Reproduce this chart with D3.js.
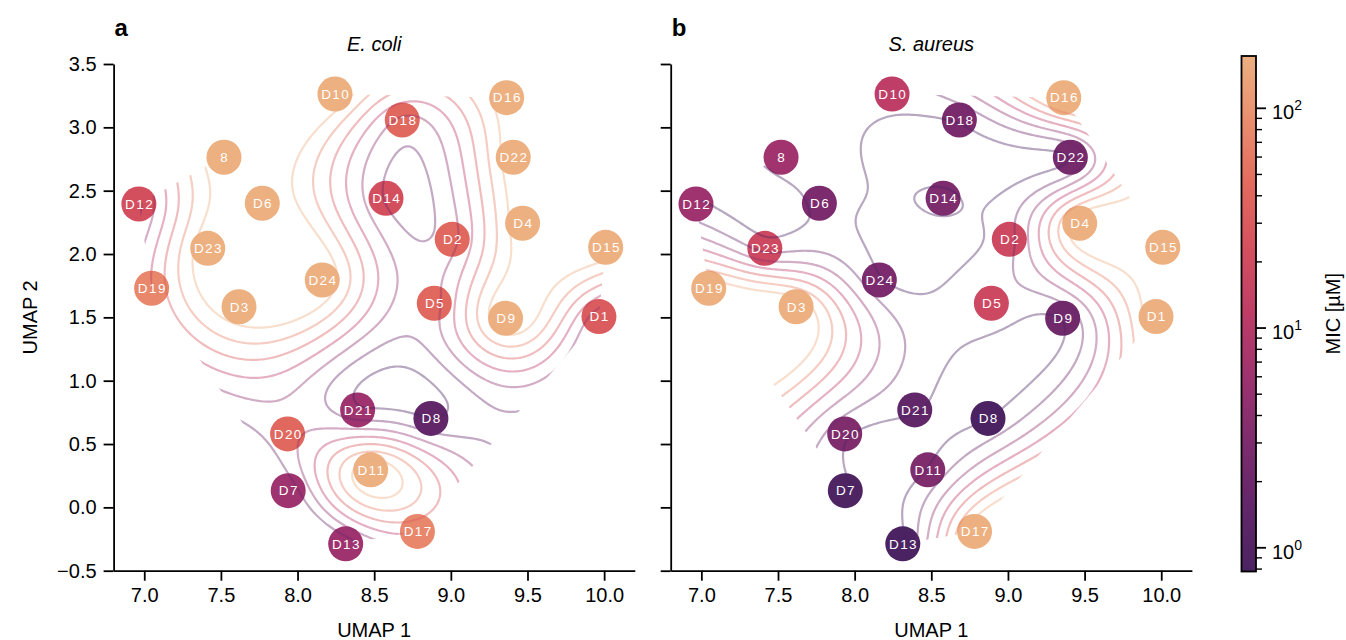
<!DOCTYPE html>
<html>
<head>
<meta charset="utf-8">
<script src="https://cdn.jsdelivr.net/npm/d3@7"></script>
<style>
  body { margin: 0; background: #fff; }
  text { font-family: "Liberation Sans", Arial, Helvetica, sans-serif; }
</style>
</head>
<body>
<svg id="chart" width="1346" height="640"></svg>
<script>
// ── data ──────────────────────────────────────────────────────────────────
const drugs = ['D1', 'D2', 'D3', 'D4', 'D5', 'D6', 'D7', 'D8', 'D9', 'D10', 'D11', 'D12', 'D13',
    'D14', 'D15', 'D16', 'D17', 'D18', 'D19', 'D20', 'D21', 'D22', 'D23', 'D24', '8'];
const umap1 = [9.966, 9.009, 7.618, 9.468, 8.892, 7.770, 7.939, 8.870, 9.357, 8.244, 8.477, 6.965, 8.314,
    8.577, 10.010, 9.364, 8.782, 8.683, 7.048, 7.935, 8.392, 9.407, 7.414, 8.161, 7.520];
const umap2 = [1.506, 2.116, 1.584, 2.243, 1.611, 2.401, 0.132, 0.702, 1.493, 3.263, 0.296, 2.395, -0.288,
    2.440, 2.053, 3.234, -0.190, 3.058, 1.730, 0.580, 0.769, 2.764, 2.045, 1.795, 2.764];
// MIC in µM
const micEcoli = [31, 43, 173, 173, 43, 173, 6, 1.5, 173, 173, 173, 22, 6,
    22, 173, 173, 77, 43, 77, 43, 6, 173, 173, 173, 173];
const micSaureus = [173, 18, 173, 173, 18, 2.9, 0.85, 0.8, 2.2, 12, 3.2, 6, 0.78,
    3, 173, 173, 173, 2.8, 173, 3.2, 1.5, 2.5, 18, 2.9, 6.5];

const xTicks = [7.0, 7.5, 8.0, 8.5, 9.0, 9.5, 10.0];
const yTicks = [-0.5, 0.0, 0.5, 1.0, 1.5, 2.0, 2.5, 3.0, 3.5];
const contourLevels = [0, 25, 50, 75, 100, 125, 150];
const micRange = [0.78, 173];
const cbarMajor = [1, 10, 100];
const cbarMinor = [0.8, 0.9, 2, 3, 4, 5, 6, 7, 8, 9, 20, 30, 40, 50, 60, 70, 80, 90];

// ── layout ────────────────────────────────────────────────────────────────
const panelLeft = [113.6, 670.7];
const panelWidth = 521.2;
const plotTop = 64, plotBottom = 570.7;
const ink = '#000';

// flare-like colormap, dark purple (low) -> light orange (high)
const flare = d3.piecewise(d3.interpolateRgb, [
    '#4b2362', '#622769', '#7d2c6e', '#9d336f', '#bd3d67',
    '#d5505e', '#e26a5e', '#e98e6e', '#edb081']);
const micColor = d3.scaleSequentialLog(flare).domain(micRange).clamp(true);
const levelColor = d3.scaleSequential(flare).domain(d3.extent(contourLevels));

const svg = d3.select('#chart');
const defs = svg.append('defs');

// thin plate spline through the points (smooth interpolated MIC field)
function fitTps(xs, ys, zs) {
    const n = xs.length, m = n + 3;
    const U = r => r > 0 ? r * r * Math.log(r) : 0;
    const A = Array.from({ length: m }, () => new Float64Array(m + 1));
    for (let i = 0; i < n; i++) {
        for (let j = 0; j < n; j++) A[i][j] = U(Math.hypot(xs[i] - xs[j], ys[i] - ys[j]));
        A[i][n] = 1; A[i][n + 1] = xs[i]; A[i][n + 2] = ys[i];
        A[n][i] = 1; A[n + 1][i] = xs[i]; A[n + 2][i] = ys[i];
        A[i][m] = zs[i];
    }
    // gaussian elimination, partial pivoting
    for (let c = 0; c < m; c++) {
        let p = c;
        for (let r = c + 1; r < m; r++) if (Math.abs(A[r][c]) > Math.abs(A[p][c])) p = r;
        [A[c], A[p]] = [A[p], A[c]];
        for (let r = 0; r < m; r++) {
            if (r === c) continue;
            const f = A[r][c] / A[c][c];
            if (f === 0) continue;
            for (let k = c; k <= m; k++) A[r][k] -= f * A[c][k];
        }
    }
    const w = A.map((row, i) => row[m] / row[i]);
    return (x, y) => {
        let v = w[n] + w[n + 1] * x + w[n + 2] * y;
        for (let i = 0; i < n; i++) v += w[i] * U(Math.hypot(x - xs[i], y - ys[i]));
        return v;
    };
}

function drawPanel(idx, mic, title, letter) {
    const left = panelLeft[idx];
    const x = d3.scaleLinear().domain([6.8, 10.2]).range([left, left + panelWidth]);
    const y = d3.scaleLinear().domain([-0.5, 3.5]).range([plotBottom, plotTop]);
    const g = svg.append('g');

    const pts = drugs.map((name, i) => ({ name, u1: umap1[i], u2: umap2[i], mic: mic[i] }));

    // convex hull clip (field only defined inside the data)
    const hull = d3.polygonHull(pts.map(p => [x(p.u1), y(p.u2)]));
    defs.append('clipPath').attr('id', `hull${idx}`)
        .append('path').attr('d', 'M' + hull.join('L') + 'Z');

    // markers
    g.append('g').selectAll('circle')
        .data(pts)
        .join('circle')
        .attr('cx', d => x(d.u1))
        .attr('cy', d => y(d.u2))
        .attr('r', 17.5)
        .attr('fill', d => micColor(d.mic));

    // contour lines of the interpolated field
    const tps = fitTps(umap1, umap2, mic);
    const step = 2;
    const nx = Math.ceil(panelWidth / step) + 1;
    const ny = Math.ceil((plotBottom - plotTop) / step) + 1;
    const grid = new Float64Array(nx * ny);
    for (let j = 0; j < ny; j++) {
        const v = y.invert(plotTop + j * step);
        for (let i = 0; i < nx; i++) grid[j * nx + i] = tps(x.invert(left + i * step), v);
    }
    const contours = d3.contours().size([nx, ny]).thresholds(contourLevels)(grid);
    const path = d3.geoPath(d3.geoTransform({
        point(px, py) { this.stream.point(left + px * step, plotTop + py * step); }
    }));
    g.append('g')
        .attr('clip-path', `url(#hull${idx})`)
        .selectAll('path')
        .data(contours)
        .join('path')
        .attr('d', path)
        .attr('fill', 'none')
        .attr('stroke', d => levelColor(d.value))
        .attr('stroke-opacity', 0.4)
        .attr('stroke-width', 2.2)
        .attr('stroke-linejoin', 'round');

    // labels
    g.append('g').selectAll('text')
        .data(pts)
        .join('text')
        .attr('x', d => x(d.u1) + 0.7)
        .attr('y', d => y(d.u2) + 4.8)
        .attr('text-anchor', 'middle')
        .attr('fill', '#fff')
        .attr('font-size', 13.5)
        .attr('letter-spacing', 1.4)
        .text(d => d.name);

    // axes
    const xAxis = g.append('g')
        .attr('transform', `translate(0,${plotBottom})`)
        .call(d3.axisBottom(x).tickValues(xTicks).tickFormat(d3.format('.1f'))
            .tickSize(10).tickSizeOuter(0).tickPadding(7));
    const yAxis = g.append('g')
        .attr('transform', `translate(${left},0)`)
        .call(d3.axisLeft(y).tickValues(yTicks)
            .tickFormat(idx === 0 ? d3.format('.1f') : () => '')
            .tickSize(10).tickSizeOuter(0).tickPadding(7));
    [xAxis, yAxis].forEach(ax => {
        ax.select('.domain').attr('stroke', ink).attr('stroke-width', 1.8);
        ax.selectAll('.tick line').attr('stroke', ink).attr('stroke-width', 1.8);
        ax.selectAll('.tick text').attr('font-size', 20).attr('fill', ink)
            .attr('font-family', '"Liberation Sans", Arial, sans-serif');
    });

    g.append('text')
        .attr('x', left + panelWidth / 2)
        .attr('y', 637)
        .attr('text-anchor', 'middle')
        .attr('font-size', 20)
        .text('UMAP 1');
    if (idx === 0) {
        g.append('text')
            .attr('transform', `translate(37,${(plotTop + plotBottom) / 2}) rotate(-90)`)
            .attr('text-anchor', 'middle')
            .attr('font-size', 20)
            .text('UMAP 2');
    }
    g.append('text')
        .attr('x', left + panelWidth / 2)
        .attr('y', 51)
        .attr('text-anchor', 'middle')
        .attr('font-size', 20)
        .attr('font-style', 'italic')
        .text(title);
    g.append('text')
        .attr('x', left + 1)
        .attr('y', 36)
        .attr('font-size', 24)
        .attr('font-weight', 'bold')
        .text(letter);
}

drawPanel(0, micEcoli, 'E. coli', 'a');
drawPanel(1, micSaureus, 'S. aureus', 'b');

// ── colorbar ──────────────────────────────────────────────────────────────
const cbX = 1241.5, cbW = 14.5, cbTop = 56, cbBottom = 571.5;
const cbScale = d3.scaleLog().domain(micRange).range([cbBottom, cbTop]);
const grad = defs.append('linearGradient').attr('id', 'cbGrad')
    .attr('x1', 0).attr('y1', 1).attr('x2', 0).attr('y2', 0);
d3.range(0, 1.0001, 0.02).forEach(t => {
    grad.append('stop').attr('offset', t).attr('stop-color', flare(t));
});
const cb = svg.append('g');
cb.append('rect')
    .attr('x', cbX).attr('y', cbTop).attr('width', cbW).attr('height', cbBottom - cbTop)
    .attr('fill', 'url(#cbGrad)').attr('stroke', ink).attr('stroke-width', 1.8);
cb.selectAll('line.major')
    .data(cbarMajor)
    .join('line')
    .attr('class', 'major')
    .attr('x1', cbX + cbW).attr('x2', cbX + cbW + 10)
    .attr('y1', d => cbScale(d)).attr('y2', d => cbScale(d))
    .attr('stroke', ink).attr('stroke-width', 1.8);
cb.selectAll('line.minor')
    .data(cbarMinor)
    .join('line')
    .attr('class', 'minor')
    .attr('x1', cbX + cbW).attr('x2', cbX + cbW + 6)
    .attr('y1', d => cbScale(d)).attr('y2', d => cbScale(d))
    .attr('stroke', ink).attr('stroke-width', 1.4);
const cbLabels = cb.selectAll('text.tl')
    .data(cbarMajor)
    .join('text')
    .attr('class', 'tl')
    .attr('x', cbX + cbW + 16)
    .attr('y', d => cbScale(d) + 11)
    .attr('font-size', 20);
cbLabels.append('tspan').text('10');
cbLabels.append('tspan').attr('dy', -9).attr('font-size', 14).text(d => Math.round(Math.log10(d)));
cb.append('text')
    .attr('transform', `translate(1340,${(cbTop + cbBottom) / 2}) rotate(-90)`)
    .attr('text-anchor', 'middle')
    .attr('font-size', 20)
    .text('MIC [µM]');
</script>
</body>
</html>
